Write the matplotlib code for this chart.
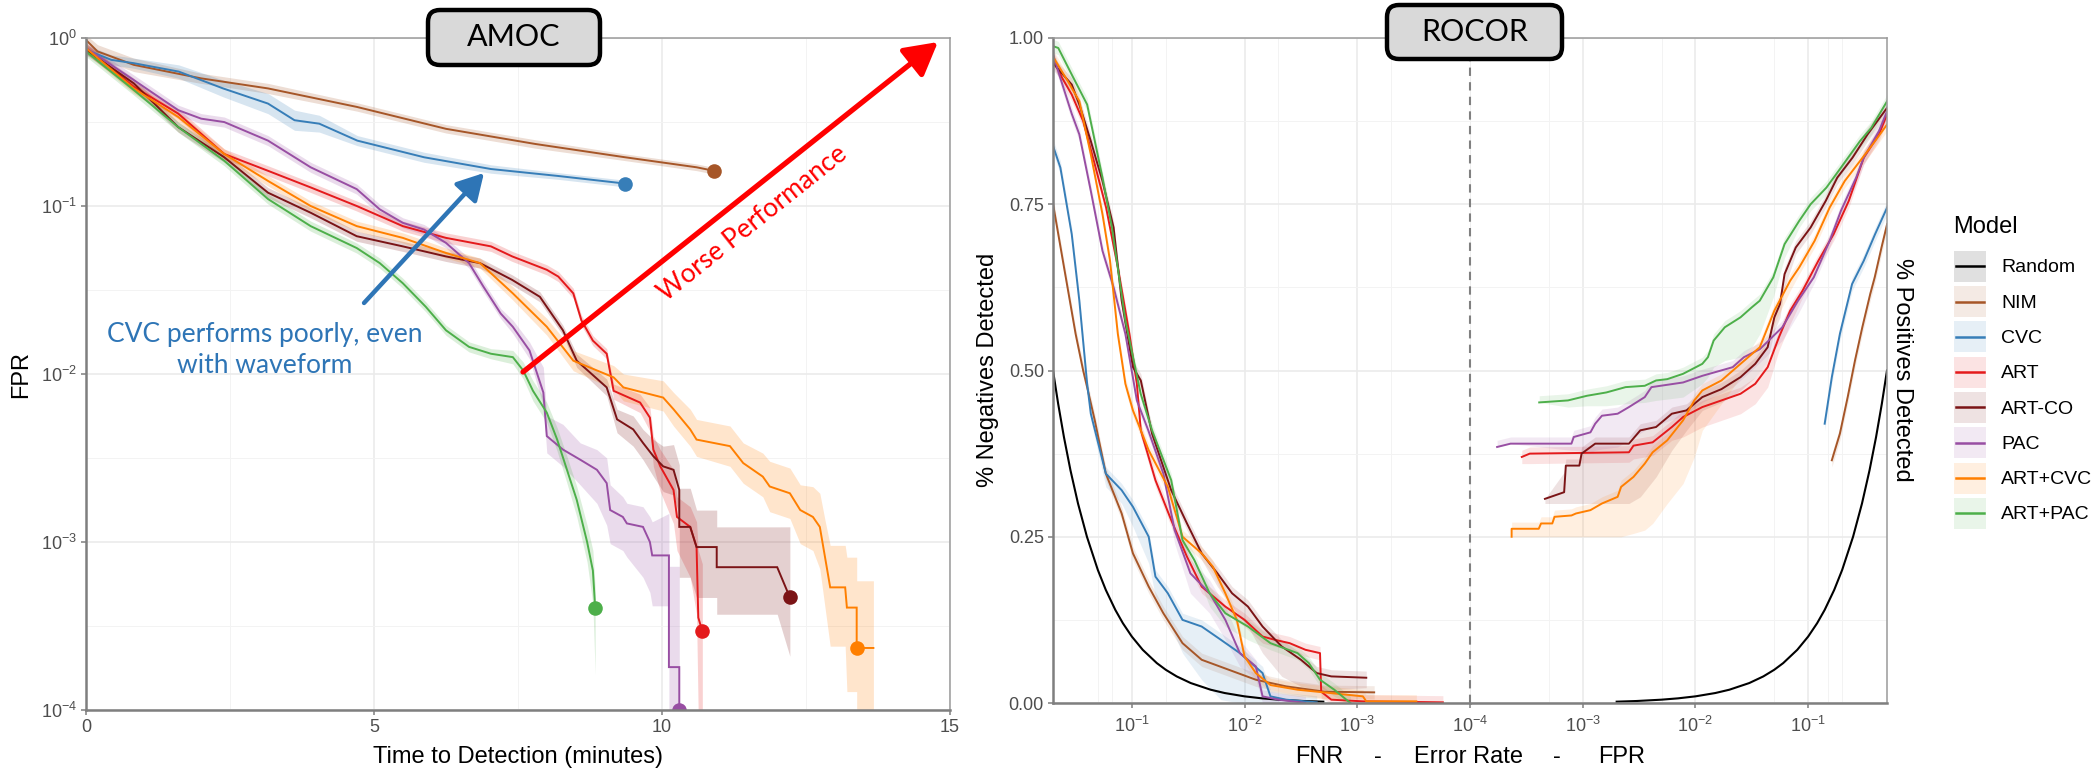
import numpy as np
import matplotlib
matplotlib.use("Agg")
import matplotlib.pyplot as plt
from matplotlib.patches import FancyBboxPatch, Rectangle
from matplotlib.lines import Line2D
from matplotlib.legend_handler import HandlerBase
import matplotlib.ticker as mticker

plt.rcParams['font.family'] = ['Liberation Sans', 'DejaVu Sans']
plt.rcParams['mathtext.fontset'] = 'custom'
plt.rcParams['mathtext.rm'] = 'Liberation Sans'
plt.rcParams['mathtext.it'] = 'Liberation Sans:italic'
plt.rcParams['mathtext.bf'] = 'Liberation Sans:bold'

W, H = 2093, 770

models = ['Random', 'NIM', 'CVC', 'ART', 'ART-CO', 'PAC', 'ART+CVC', 'ART+PAC']
colors = ['#000000', '#A65628', '#377EB8', '#E41A1C', '#7B1416', '#984EA3', '#FF7F00', '#4DAF4A']

# ---------------- AMOC (time to detection vs FPR) ----------------
nim_t = [0, 0.2, 0.83, 2.0, 3.16, 4.7, 6.25, 7.8, 9.36, 10.6, 10.9]
nim_fpr = [0.973, 0.832, 0.692, 0.575, 0.501, 0.389, 0.288, 0.234, 0.195, 0.170, 0.162]
nim_wlo = [0.03, 0.04, 0.04, 0.03, 0.03, 0.025, 0.025, 0.025, 0.02, 0.02, 0.02]
nim_whi = [0.03, 0.04, 0.04, 0.03, 0.03, 0.025, 0.025, 0.025, 0.02, 0.02, 0.02]

cvc_t = [0, 0.44, 0.83, 1.61, 2.38, 3.16, 3.62, 4.05, 4.71, 5.87, 7.03, 8.19, 9.36]
cvc_fpr = [0.851, 0.741, 0.708, 0.631, 0.501, 0.407, 0.324, 0.309, 0.245, 0.195, 0.166, 0.151, 0.136]
cvc_wlo = [0.03, 0.03, 0.03, 0.04, 0.05, 0.06, 0.06, 0.05, 0.03, 0.03, 0.025, 0.02, 0.02]
cvc_whi = [0.03, 0.03, 0.03, 0.04, 0.05, 0.06, 0.06, 0.05, 0.03, 0.03, 0.025, 0.02, 0.02]

art_t = [0, 0.83, 1.6, 2.4, 3.16, 3.9, 4.7, 5.5, 6.25, 7.03, 7.4, 8.0, 8.2, 8.46, 8.6, 8.8, 9.04,
         9.16, 9.62, 9.79, 9.85, 9.97, 10.2, 10.26, 10.49, 10.6, 10.63, 10.7]
art_fpr = [0.871, 0.513, 0.355, 0.204, 0.162, 0.129, 0.100, 0.0759, 0.0646, 0.0575, 0.0501, 0.0417,
           0.0380, 0.0302, 0.0209, 0.0158, 0.0132, 0.00794, 0.00676, 0.00550, 0.00355, 0.00282,
           0.00204, 0.00141, 0.00123, 0.000933, 0.000355, 0.000295]
art_wlo = [0.03] * 17 + [0.05, 0.06, 0.08, 0.1, 0.15, 0.2, 0.2, 0.3, 0.4, 0.6, 0.6]
art_whi = [0.03] * 17 + [0.04, 0.05, 0.06, 0.08, 0.1, 0.12, 0.12, 0.12, 0.15, 0.4, 0.4]

artco_t = [0, 0.83, 1.6, 2.4, 3.16, 3.9, 4.7, 5.5, 6.25, 6.84, 7.4, 7.88, 8.28, 8.52, 9.04, 9.22,
           9.5, 9.67, 9.85, 10.02, 10.2, 10.3, 10.3, 10.49, 10.6, 10.95, 10.95, 12.0, 12.22]
artco_fpr = [0.851, 0.537, 0.295, 0.195, 0.120, 0.0912, 0.0661, 0.0575, 0.0501, 0.0457, 0.0363,
             0.0288, 0.0182, 0.0120, 0.00832, 0.00537, 0.00468, 0.00389, 0.00324, 0.00282, 0.00269,
             0.00204, 0.00123, 0.00123, 0.000933, 0.000933, 0.000708, 0.000708, 0.000468]
artco_wlo = [0.03] * 13 + [0.04, 0.05, 0.08, 0.1, 0.1, 0.12, 0.15, 0.15, 0.15, 0.3, 0.3, 0.3, 0.3,
                           0.28, 0.28, 0.35]
artco_whi = [0.03] * 13 + [0.04, 0.05, 0.06, 0.08, 0.08, 0.1, 0.12, 0.15, 0.15, 0.23, 0.23, 0.22,
                           0.22, 0.24, 0.24, 0.42]

pac_t = [0, 0.83, 1.6, 2.0, 2.4, 3.16, 3.9, 4.7, 5.1, 5.5, 5.87, 6.25, 6.65, 6.9, 7.2, 7.41, 7.7,
         7.94, 8.0, 8.28, 8.58, 8.87, 9.04, 9.1, 9.32, 9.39, 9.67, 9.79, 9.83, 10.12, 10.12, 10.3, 10.3]
pac_fpr = [0.871, 0.562, 0.372, 0.331, 0.316, 0.245, 0.170, 0.126, 0.0955, 0.0794, 0.0724, 0.0603,
           0.0457, 0.0331, 0.0229, 0.0191, 0.0138, 0.00776, 0.00427, 0.00355, 0.00309, 0.00269,
           0.00224, 0.00155, 0.00141, 0.00129, 0.00123, 0.001, 0.000832, 0.000832, 0.00018, 0.00018,
           0.0001]
pac_wlo = [0.03] * 15 + [0.04, 0.05, 0.08, 0.1, 0.1, 0.15, 0.2, 0.25, 0.2, 0.2, 0.2, 0.3, 0.3, 0.3,
                         0.3, 0.5, 0.5, 0.0]
pac_whi = [0.03] * 15 + [0.04, 0.05, 0.15, 0.12, 0.15, 0.1, 0.12, 0.15, 0.15, 0.12, 0.12, 0.12, 0.15,
                         0.2, 0.25, 0.6, 0.6, 0.6]

artcvc_t = [0, 0.83, 1.6, 2.4, 3.16, 3.9, 4.7, 5.5, 6.25, 6.84, 7.41, 8.0, 8.46, 9.16, 9.33, 10.02,
            10.2, 10.49, 10.6, 11.18, 11.41, 11.75, 11.87, 12.22, 12.4, 12.62, 12.74, 12.83, 12.92,
            13.18, 13.21, 13.38, 13.38, 13.67]
artcvc_fpr = [0.871, 0.501, 0.339, 0.204, 0.141, 0.100, 0.0759, 0.0646, 0.0525, 0.0457, 0.0302,
              0.0191, 0.0120, 0.00955, 0.00832, 0.00724, 0.00617, 0.00468, 0.00407, 0.00372, 0.00295,
              0.00245, 0.00214, 0.00195, 0.00155, 0.00141, 0.00123, 0.000813, 0.000537, 0.000537,
              0.000407, 0.000407, 0.000234, 0.000234]
artcvc_wlo = [0.03] * 10 + [0.04, 0.05, 0.06, 0.07, 0.08, 0.08, 0.1, 0.1, 0.1, 0.12, 0.12, 0.12, 0.15,
                            0.15, 0.2, 0.2, 0.25, 0.3, 0.35, 0.35, 0.5, 0.5, 0.6, 0.6]
artcvc_whi = [0.03] * 10 + [0.04, 0.05, 0.06, 0.07, 0.08, 0.1, 0.1, 0.12, 0.12, 0.12, 0.12, 0.14,
                            0.15, 0.15, 0.15, 0.18, 0.2, 0.22, 0.25, 0.25, 0.3, 0.3, 0.4, 0.4]

artpac_t = [0, 0.83, 1.6, 2.4, 3.16, 3.9, 4.7, 5.1, 5.5, 5.9, 6.25, 6.65, 7.03, 7.41, 7.59, 7.76,
            8.0, 8.18, 8.35, 8.52, 8.7, 8.8, 8.84]
artpac_fpr = [0.832, 0.490, 0.295, 0.186, 0.110, 0.0759, 0.0562, 0.0457, 0.0347, 0.0251, 0.0182,
              0.0145, 0.0132, 0.0126, 0.0105, 0.00794, 0.00589, 0.00407, 0.00269, 0.00178, 0.001,
              0.000676, 0.000407]
artpac_wlo = [0.03] * 13 + [0.04, 0.05, 0.06, 0.06, 0.07, 0.08, 0.1, 0.12, 0.2, 0.4]
artpac_whi = [0.03] * 13 + [0.04, 0.05, 0.06, 0.06, 0.07, 0.08, 0.08, 0.1, 0.12, 0.12]

end_t = [10.9, 9.36, 10.7, 12.22, 10.3, 13.38, 8.84]
end_fpr = [0.162, 0.136, 0.000295, 0.000468, 0.0001, 0.000234, 0.000407]

# ---------------- ROCOR ----------------
rnd_rate = [0.5, 0.45, 0.4, 0.35, 0.3, 0.25, 0.2, 0.17, 0.14, 0.12, 0.1, 0.08, 0.06, 0.05, 0.04,
            0.03, 0.02, 0.015, 0.01, 0.007, 0.005, 0.003, 0.002]
rnd_detected = [0.5, 0.45, 0.4, 0.35, 0.3, 0.25, 0.2, 0.17, 0.14, 0.12, 0.1, 0.08, 0.06, 0.05, 0.04,
                0.03, 0.02, 0.015, 0.01, 0.007, 0.005, 0.003, 0.002]

nim_fnr = [0.505, 0.399, 0.315, 0.270, 0.249, 0.213, 0.170, 0.123, 0.0977, 0.0708, 0.0525, 0.0355,
           0.024, 0.0138, 0.00794, 0.00427, 0.00195, 0.000708]
nim_neg = [0.755, 0.655, 0.555, 0.50, 0.475, 0.425, 0.345, 0.285, 0.225, 0.175, 0.135, 0.09, 0.065,
           0.05, 0.035, 0.025, 0.017, 0.016]
nim_neg_dlo = [0.01] * 18
nim_neg_dhi = [0.01] * 18
nim_fprr = [0.162, 0.191, 0.224, 0.260, 0.302, 0.355, 0.389, 0.447, 0.501]
nim_pos = [0.365, 0.405, 0.46, 0.515, 0.565, 0.615, 0.64, 0.685, 0.72]
nim_pos_dlo = [0.01] * 9
nim_pos_dhi = [0.01] * 9

cvc_fnr = [0.505, 0.430, 0.341, 0.292, 0.249, 0.231, 0.170, 0.123, 0.0977, 0.0708, 0.0617, 0.0479,
           0.0355, 0.024, 0.0162, 0.011, 0.00692, 0.00589, 0.00427, 0.00229]
cvc_neg = [0.84, 0.805, 0.705, 0.605, 0.48, 0.435, 0.345, 0.32, 0.295, 0.25, 0.19, 0.165, 0.125,
           0.115, 0.095, 0.075, 0.045, 0.01, 0.005, 0.001]
cvc_neg_dlo = [0.01, 0.01, 0.01, 0.01, 0.01, 0.01, 0.02, 0.02, 0.03, 0.04, 0.03, 0.04, 0.05, 0.08,
               0.09, 0.075, 0.045, 0.01, 0.005, 0.001]
cvc_neg_dhi = [0.01] * 20
cvc_fprr = [0.140, 0.162, 0.191, 0.245, 0.311, 0.392, 0.501]
cvc_pos = [0.42, 0.49, 0.555, 0.63, 0.665, 0.705, 0.745]
cvc_pos_dlo = [0.01] * 7
cvc_pos_dhi = [0.01] * 7

art_fnr = [0.505, 0.415, 0.341, 0.270, 0.213, 0.169, 0.133, 0.105, 0.0902, 0.0832, 0.0617, 0.0447,
           0.0324, 0.024, 0.0148, 0.01, 0.00692, 0.00537, 0.00398, 0.00288, 0.00214, 0.00209,
           0.0017, 0.000891, 0.000174]
art_neg = [0.97, 0.94, 0.915, 0.875, 0.81, 0.745, 0.655, 0.555, 0.48, 0.41, 0.335, 0.275, 0.22,
           0.175, 0.145, 0.125, 0.10, 0.095, 0.09, 0.08, 0.075, 0.017, 0.005, 0.0025, 0.001]
art_neg_dlo = [0.01] * 25
art_neg_dhi = [0.01] * 25
art_fprr = [0.000288, 0.000339, 0.00257, 0.00282, 0.00417, 0.00617, 0.00776, 0.0115, 0.017, 0.0251,
            0.0339, 0.0437, 0.055, 0.0692, 0.0891, 0.123, 0.168, 0.229, 0.311, 0.424, 0.501]
art_pos = [0.37, 0.375, 0.377, 0.387, 0.392, 0.415, 0.43, 0.445, 0.455, 0.465, 0.48, 0.505, 0.55,
           0.59, 0.62, 0.665, 0.705, 0.755, 0.82, 0.855, 0.885]
art_pos_dlo = [0.01, 0.015, 0.015, 0.02, 0.02, 0.02, 0.03, 0.03, 0.03, 0.03, 0.03, 0.03, 0.02, 0.02,
               0.01, 0.01, 0.01, 0.01, 0.01, 0.01, 0.01]
art_pos_dhi = [0.01] * 21

artco_fnr = [0.505, 0.341, 0.292, 0.231, 0.182, 0.145, 0.123, 0.0977, 0.0832, 0.0661, 0.0447,
             0.0324, 0.024, 0.0174, 0.0129, 0.00933, 0.00692, 0.00468, 0.00316, 0.00229, 0.0017,
             0.000832]
artco_neg = [0.963, 0.93, 0.90, 0.845, 0.785, 0.715, 0.605, 0.505, 0.485, 0.405, 0.32, 0.27, 0.225,
             0.195, 0.165, 0.145, 0.115, 0.085, 0.065, 0.045, 0.04, 0.038]
artco_neg_dlo = [0.01] * 13 + [0.02, 0.02, 0.03, 0.04, 0.045, 0.04, 0.025, 0.02, 0.015]
artco_neg_dhi = [0.01] * 22
artco_fprr = [0.000462, 0.000684, 0.000708, 0.000933, 0.000977, 0.00129, 0.00257, 0.00324, 0.00447,
              0.00617, 0.00832, 0.0115, 0.017, 0.0251, 0.0339, 0.0437, 0.0501, 0.0562, 0.0617,
              0.0776, 0.105, 0.143, 0.181, 0.247, 0.336, 0.501]
artco_pos = [0.307, 0.317, 0.357, 0.357, 0.375, 0.39, 0.39, 0.41, 0.415, 0.435, 0.44, 0.46, 0.472,
             0.49, 0.51, 0.535, 0.58, 0.60, 0.645, 0.685, 0.715, 0.755, 0.79, 0.82, 0.855, 0.895]
artco_pos_dlo = [0.007, 0.017, 0.057, 0.057, 0.075, 0.09, 0.09, 0.10, 0.075, 0.055, 0.03, 0.02, 0.02,
                 0.02, 0.02, 0.02, 0.02, 0.02, 0.02, 0.01, 0.01, 0.01, 0.01, 0.01, 0.01, 0.01]
artco_pos_dhi = [0.0, 0.03] + [0.01] * 24

pac_fnr = [0.505, 0.431, 0.341, 0.292, 0.231, 0.182, 0.145, 0.114, 0.0902, 0.0714, 0.0525, 0.0417,
           0.0302, 0.0204, 0.0148, 0.011, 0.00794, 0.00692, 0.00501, 0.00288]
pac_neg = [0.978, 0.94, 0.886, 0.855, 0.77, 0.68, 0.625, 0.555, 0.455, 0.41, 0.345, 0.26, 0.195,
           0.165, 0.125, 0.075, 0.055, 0.01, 0.005, 0.0]
pac_neg_dlo = [0.01] * 11 + [0.02, 0.03, 0.03, 0.03, 0.02, 0.02, 0.01, 0.005, 0.0]
pac_neg_dhi = [0.01] * 11 + [0.02] * 5 + [0.01] * 4
pac_fprr = [0.000174, 0.000229, 0.000794, 0.000832, 0.00117, 0.00129, 0.00148, 0.00204, 0.00257,
            0.00355, 0.00407, 0.00776, 0.0115, 0.0214, 0.0269, 0.0372, 0.0589, 0.0813, 0.112, 0.155,
            0.195, 0.266, 0.311, 0.424, 0.501]
pac_pos = [0.385, 0.39, 0.39, 0.40, 0.407, 0.42, 0.432, 0.435, 0.445, 0.46, 0.475, 0.482, 0.492,
           0.505, 0.52, 0.532, 0.565, 0.605, 0.64, 0.695, 0.74, 0.79, 0.82, 0.86, 0.89]
pac_pos_dlo = [0.0, 0.0, 0.01, 0.02, 0.03, 0.04, 0.05, 0.05, 0.05, 0.05, 0.06, 0.05, 0.04, 0.03,
               0.03, 0.02, 0.02, 0.02, 0.01, 0.01, 0.01, 0.01, 0.01, 0.01, 0.01]
pac_pos_dhi = [0.01] * 25

artcvc_fnr = [0.505, 0.369, 0.292, 0.231, 0.182, 0.156, 0.133, 0.114, 0.0977, 0.0708, 0.0479,
              0.0355, 0.024, 0.0191, 0.0148, 0.0117, 0.01, 0.00794, 0.00589, 0.00339, 0.000891,
              0.000832, 0.000299]
artcvc_neg = [0.973, 0.935, 0.905, 0.825, 0.735, 0.665, 0.555, 0.48, 0.44, 0.38, 0.325, 0.25, 0.225,
              0.205, 0.165, 0.125, 0.07, 0.045, 0.027, 0.02, 0.01, 0.0025, 0.0025]
artcvc_neg_dlo = [0.01] * 23
artcvc_neg_dhi = [0.01] * 23
artcvc_fprr = [0.000234, 0.000234, 0.000407, 0.000427, 0.000537, 0.000562, 0.000794, 0.000871,
               0.00117, 0.00148, 0.00204, 0.00219, 0.00282, 0.00355, 0.00417, 0.00562, 0.00776,
               0.00977, 0.0115, 0.017, 0.0251, 0.0372, 0.0501, 0.0692, 0.0832, 0.114, 0.155, 0.211,
               0.288, 0.392, 0.501]
artcvc_pos = [0.25, 0.262, 0.262, 0.27, 0.27, 0.28, 0.282, 0.285, 0.29, 0.30, 0.31, 0.325, 0.34,
              0.36, 0.377, 0.395, 0.425, 0.455, 0.47, 0.485, 0.51, 0.535, 0.59, 0.635, 0.655, 0.695,
              0.745, 0.785, 0.815, 0.845, 0.87]
artcvc_pos_dlo = [0.005, 0.012, 0.012, 0.02, 0.02, 0.03, 0.032, 0.035, 0.04, 0.05, 0.06, 0.075,
                  0.085, 0.10, 0.107, 0.095, 0.095, 0.085, 0.06, 0.035, 0.02, 0.015, 0.02, 0.015,
                  0.01, 0.01, 0.01, 0.01, 0.01, 0.01, 0.01]
artcvc_pos_dhi = [0.01] * 31

artpac_fnr = [0.505, 0.449, 0.341, 0.249, 0.182, 0.150, 0.114, 0.0834, 0.0661, 0.0447, 0.0355,
              0.0279, 0.0204, 0.0148, 0.00933, 0.00589, 0.00339, 0.00269, 0.00214, 0.0016, 0.00125,
              0.00115]
artpac_neg = [0.988, 0.985, 0.945, 0.90, 0.79, 0.715, 0.575, 0.465, 0.41, 0.335, 0.245, 0.215, 0.165,
              0.135, 0.115, 0.09, 0.075, 0.06, 0.035, 0.02, 0.005, 0.0]
artpac_neg_dlo = [0.01] * 12 + [0.02, 0.02, 0.02, 0.01, 0.01, 0.01, 0.01, 0.01, 0.005, 0.0]
artpac_neg_dhi = [0.01] * 22
artpac_fprr = [0.000411, 0.000740, 0.00109, 0.00162, 0.0024, 0.00355, 0.00447, 0.00562, 0.00776,
               0.0115, 0.0129, 0.0145, 0.0182, 0.0251, 0.0316, 0.0372, 0.049, 0.0617, 0.0832, 0.105,
               0.145, 0.195, 0.288, 0.363, 0.501]
artpac_pos = [0.452, 0.455, 0.462, 0.467, 0.475, 0.477, 0.485, 0.487, 0.495, 0.51, 0.52, 0.545,
              0.565, 0.58, 0.595, 0.605, 0.64, 0.69, 0.725, 0.75, 0.775, 0.805, 0.845, 0.865, 0.905]
artpac_pos_dlo = [0.0, 0.01, 0.015, 0.02, 0.025, 0.025, 0.03, 0.03, 0.035, 0.03, 0.03, 0.04, 0.05,
                  0.06, 0.06, 0.05, 0.03, 0.02, 0.01, 0.01, 0.01, 0.01, 0.01, 0.01, 0.01]
artpac_pos_dhi = [0.01] * 25

# ---------------- assemble ----------------
amoc = [
    (nim_t, nim_fpr, nim_wlo, nim_whi),
    (cvc_t, cvc_fpr, cvc_wlo, cvc_whi),
    (art_t, art_fpr, art_wlo, art_whi),
    (artco_t, artco_fpr, artco_wlo, artco_whi),
    (pac_t, pac_fpr, pac_wlo, pac_whi),
    (artcvc_t, artcvc_fpr, artcvc_wlo, artcvc_whi),
    (artpac_t, artpac_fpr, artpac_wlo, artpac_whi),
]
rocor_neg = [
    (nim_fnr, nim_neg, nim_neg_dlo, nim_neg_dhi),
    (cvc_fnr, cvc_neg, cvc_neg_dlo, cvc_neg_dhi),
    (art_fnr, art_neg, art_neg_dlo, art_neg_dhi),
    (artco_fnr, artco_neg, artco_neg_dlo, artco_neg_dhi),
    (pac_fnr, pac_neg, pac_neg_dlo, pac_neg_dhi),
    (artcvc_fnr, artcvc_neg, artcvc_neg_dlo, artcvc_neg_dhi),
    (artpac_fnr, artpac_neg, artpac_neg_dlo, artpac_neg_dhi),
]
rocor_pos = [
    (nim_fprr, nim_pos, nim_pos_dlo, nim_pos_dhi),
    (cvc_fprr, cvc_pos, cvc_pos_dlo, cvc_pos_dhi),
    (art_fprr, art_pos, art_pos_dlo, art_pos_dhi),
    (artco_fprr, artco_pos, artco_pos_dlo, artco_pos_dhi),
    (pac_fprr, pac_pos, pac_pos_dlo, pac_pos_dhi),
    (artcvc_fprr, artcvc_pos, artcvc_pos_dlo, artcvc_pos_dhi),
    (artpac_fprr, artpac_pos, artpac_pos_dlo, artpac_pos_dhi),
]

fig = plt.figure(figsize=(W / 100, H / 100), dpi=100)

TICK_C = '#4d4d4d'
GRID_MAJ = '#ebebeb'
GRID_MIN = '#f3f3f3'
AX_DARK = '#7f7f7f'
AX_LIGHT = '#9a9a9a'


def style_common(ax):
    ax.set_axisbelow(True)
    ax.grid(which='major', color=GRID_MAJ, lw=1.2)
    ax.grid(which='minor', color=GRID_MIN, lw=0.7)
    ax.tick_params(which='major', direction='out', length=3.5, width=1.1, color=AX_DARK,
                   labelcolor=TICK_C, labelsize=13, pad=3)
    ax.tick_params(which='minor', length=0)


# ---------- left panel ----------
ax1 = fig.add_axes([86 / W, (H - 710) / H, 864 / W, 672 / H])
ax1.set_yscale('log')
ax1.set_xlim(0, 15)
ax1.set_ylim(1e-4, 1)
ax1.set_xticks([0, 5, 10, 15])
ax1.set_xticklabels(['0', '5', '10', '15'])
ax1.xaxis.set_minor_locator(mticker.FixedLocator([2.5, 7.5, 12.5]))
ax1.set_yticks([1e-4, 1e-3, 1e-2, 1e-1, 1])
ax1.set_yticklabels([r'$10^{-4}$', r'$10^{-3}$', r'$10^{-2}$', r'$10^{-1}$', r'$10^{0}$'])
ax1.yaxis.set_minor_locator(mticker.FixedLocator([10 ** -3.5, 10 ** -2.5, 10 ** -1.5, 10 ** -0.5]))
ax1.yaxis.set_minor_formatter(mticker.NullFormatter())
style_common(ax1)
for s in ['left', 'bottom']:
    ax1.spines[s].set_color(AX_DARK)
    ax1.spines[s].set_linewidth(1.8)
for s in ['top', 'right']:
    ax1.spines[s].set_color(AX_LIGHT)
    ax1.spines[s].set_linewidth(1.1)

for (t, v, wlo, whi), c in zip(amoc, colors[1:]):
    t = np.asarray(t); v = np.asarray(v)
    lo = v / 10 ** np.asarray(wlo)
    hi = v * 10 ** np.asarray(whi)
    ax1.fill_between(t, lo, hi, color=c, alpha=0.2, lw=0)
for (t, v, wlo, whi), c in zip(amoc, colors[1:]):
    ax1.plot(t, v, color=c, lw=1.4, solid_joinstyle='miter')
for tt, vv, c in zip(end_t, end_fpr, colors[1:]):
    ax1.plot([tt], [vv], 'o', ms=10.5, color=c, mec='none')

# ---------- right panel ----------
yb = (H - 703) / H
yh = 665 / H
axL = fig.add_axes([1053 / W, yb, 417 / W, yh])
axR = fig.add_axes([1470 / W, yb, 417 / W, yh])
for ax in (axL, axR):
    ax.set_xscale('log')
    ax.set_ylim(0, 1)
    ax.set_yticks([0, 0.25, 0.5, 0.75, 1.0])
    ax.yaxis.set_minor_locator(mticker.FixedLocator([0.125, 0.375, 0.625, 0.875]))
    ax.xaxis.set_minor_locator(mticker.FixedLocator([0.2, 0.15, 0.05, 0.005, 0.0005]))
    ax.xaxis.set_minor_formatter(mticker.NullFormatter())
    style_common(ax)
axL.set_xlim(0.5, 1e-4)
axR.set_xlim(1e-4, 0.5)
axL.set_xticks([1e-1, 1e-2, 1e-3])
axL.set_xticklabels([r'$10^{-1}$', r'$10^{-2}$', r'$10^{-3}$'])
axR.set_xticks([1e-4, 1e-3, 1e-2, 1e-1])
axR.set_xticklabels([r'$10^{-4}$', r'$10^{-3}$', r'$10^{-2}$', r'$10^{-1}$'])
axL.set_yticklabels(['0.00', '0.25', '0.50', '0.75', '1.00'])
axR.tick_params(axis='y', which='both', length=0, labelleft=False)
axL.tick_params(axis='x', pad=6)
axR.tick_params(axis='x', pad=6)

axL.spines['right'].set_visible(False)
axR.spines['left'].set_visible(False)
for ax in (axL, axR):
    ax.spines['bottom'].set_color(AX_DARK)
    ax.spines['bottom'].set_linewidth(1.8)
    ax.spines['top'].set_color(AX_LIGHT)
    ax.spines['top'].set_linewidth(1.1)
axL.spines['left'].set_color(AX_DARK)
axL.spines['left'].set_linewidth(1.8)
axR.spines['right'].set_color(AX_LIGHT)
axR.spines['right'].set_linewidth(1.1)

axR.axvline(1e-4, color='#808080', lw=1.5, ls=(0, (4, 3)), clip_on=False, zorder=1.5)

# ribbons
for (x, v, dlo, dhi), c in zip(rocor_neg, colors[1:]):
    v = np.asarray(v)
    axL.fill_between(x, np.clip(v - np.asarray(dlo), 0, 1), np.clip(v + np.asarray(dhi), 0, 1),
                     color=c, alpha=0.12, lw=0)
for (x, v, dlo, dhi), c in zip(rocor_pos, colors[1:]):
    v = np.asarray(v)
    axR.fill_between(x, np.clip(v - np.asarray(dlo), 0, 1), np.clip(v + np.asarray(dhi), 0, 1),
                     color=c, alpha=0.12, lw=0)
# lines
axL.plot(rnd_rate, rnd_detected, color=colors[0], lw=1.5)
axR.plot(rnd_rate, rnd_detected, color=colors[0], lw=1.5)
for (x, v, dlo, dhi), c in zip(rocor_neg, colors[1:]):
    axL.plot(x, v, color=c, lw=1.4)
for (x, v, dlo, dhi), c in zip(rocor_pos, colors[1:]):
    axR.plot(x, v, color=c, lw=1.4)

# ---------- labels ----------
fig.text(21 / W, 1 - 374 / H, 'FPR', rotation=90, fontsize=17, ha='center', va='center')
fig.text(518 / W, 1 - 757 / H, 'Time to Detection (minutes)', fontsize=17, ha='center', va='center')
fig.text(988 / W, 1 - 370 / H, '% Negatives Detected', rotation=90, fontsize=17, ha='center',
         va='center')
fig.text(1902 / W, 1 - 370 / H, '% Positives Detected', rotation=-90, fontsize=17, ha='center',
         va='center')
for xs, s in [(1319, 'FNR'), (1378, '-'), (1468, 'Error Rate'), (1557, '-'), (1622, 'FPR')]:
    fig.text(xs / W, 1 - 757 / H, s, fontsize=17, ha='center', va='center')


# ---------- legend ----------
class KeyHandler(HandlerBase):
    def create_artists(self, legend, orig_handle, xdescent, ydescent, width, height, fontsize,
                       trans):
        c = orig_handle.get_color()
        rect = Rectangle((-xdescent, -ydescent), width, height, facecolor=c, alpha=0.12,
                         edgecolor='none', transform=trans)
        yc = -ydescent + height / 2
        ln = Line2D([-xdescent + 0.05 * width, -xdescent + 0.95 * width], [yc, yc], color=c,
                    lw=1.8, transform=trans)
        return [rect, ln]


LEG_FS = 14
fs_px = LEG_FS * 100 / 72
key_w, key_h, pitch = 32, 31, 35.3
hh = (key_h / fs_px - 0.245) / 0.65
handles = [Line2D([], [], color=c) for c in colors]
leg = fig.legend(handles, models, loc='upper left', bbox_to_anchor=(1954 / W, 1 - 250.7 / H),
                 frameon=False, fontsize=LEG_FS, handler_map={Line2D: KeyHandler()},
                 handlelength=key_w / fs_px, handleheight=hh,
                 labelspacing=(pitch - key_h) / fs_px, handletextpad=15 / fs_px,
                 borderpad=0, borderaxespad=0)
fig.text(1953 / W, 1 - 233 / H, 'Model', fontsize=17, ha='left', va='baseline')

# ---------- annotations ----------
ax1.annotate('', xy=(0.986, 0.994), xytext=(0.5058, 0.503), xycoords='axes fraction',
             textcoords='axes fraction', annotation_clip=False,
             arrowprops=dict(arrowstyle='-|>,head_length=0.9,head_width=0.5', color='#FF0000',
                             lw=3.8, mutation_scale=22, shrinkA=0, shrinkB=0))
ax1.text(0.772, 0.7247, 'Worse Performance', transform=ax1.transAxes, rotation=38.5,
         rotation_mode='anchor', ha='center', va='center', color='#FF0000', fontsize=19,
         family=['Lato', 'DejaVu Sans'])
ax1.annotate('', xy=(0.4606, 0.7991), xytext=(0.3218, 0.6057), xycoords='axes fraction',
             textcoords='axes fraction',
             arrowprops=dict(arrowstyle='-|>,head_length=0.8,head_width=0.45', color='#2E75B6',
                             lw=3.2, mutation_scale=20, shrinkA=0, shrinkB=0))
ax1.text(0.207, 0.536, 'CVC performs poorly, even\nwith waveform', transform=ax1.transAxes,
         ha='center', va='center', multialignment='center', color='#2E75B6', fontsize=19,
         linespacing=1.3, family=['Lato', 'DejaVu Sans'])

# ---------- panel title boxes ----------
for (x0, y0, w, h, label) in [(428, 10, 172, 55, 'AMOC'), (1387, 5, 175, 54, 'ROCOR')]:
    box = FancyBboxPatch((x0 / 100, (H - y0 - h) / 100), w / 100, h / 100,
                         boxstyle='round,pad=0,rounding_size=0.12', transform=fig.dpi_scale_trans,
                         facecolor='#d9d9d9', edgecolor='black', lw=3.2, zorder=10)
    fig.add_artist(box)
    fig.text((x0 + w / 2) / 100, (H - y0 - h / 2) / 100, label, transform=fig.dpi_scale_trans,
             ha='center', va='center', fontsize=22, family=['Lato', 'DejaVu Sans'], zorder=11)

fig.savefig('out.png', dpi=100)
